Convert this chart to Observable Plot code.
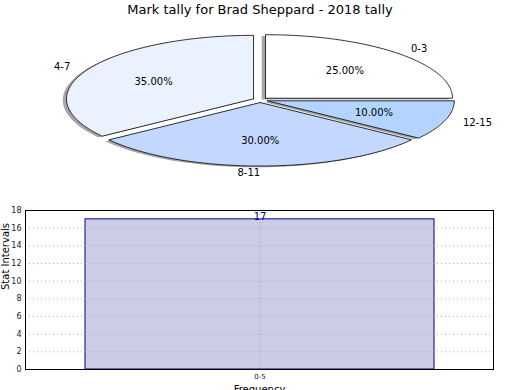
<!DOCTYPE html>
<html>
<head>
<meta charset="utf-8">
<script src="https://cdn.jsdelivr.net/npm/d3@7"></script>
<script src="https://cdn.jsdelivr.net/npm/@observablehq/plot@0.6"></script>
<style>
  html, body { margin: 0; padding: 0; background: #fff; }
  #wrap { position: relative; width: 520px; height: 390px; overflow: hidden; font-family: "DejaVu Sans", sans-serif; }
  #title { position: absolute; left: 0; top: 2px; width: 520px; text-align: center; font-size: 13px; color: #000; }
  #pie { position: absolute; left: 0; top: 0; }
  #bar { position: absolute; left: 0; top: 195px; }
</style>
</head>
<body>
<div id="wrap">
  <div id="pie"></div>
  <div id="title">Mark tally for Brad Sheppard - 2018 tally</div>
  <div id="bar"></div>
</div>
<script>
// ---- data ----
const sliceLabels = ["0-3", "4-7", "8-11", "12-15"];
const sliceShares = [25, 35, 30, 10];
const sliceColors = ["#ffffff", "#ebf2ff", "#c4d7ff", "#b3d4ff"];
const sliceExplode = [0.04, 0.04, 0.04, 0.04];

const barCategories = ["0-5"];
const barValues = [17];

// ---- pie geometry (unit circle, counterclockwise from 0°) ----
const total = d3.sum(sliceShares);
let acc = 0;
const slices = sliceLabels.map((label, i) => {
  const a0 = acc / total * 2 * Math.PI;
  acc += sliceShares[i];
  const a1 = acc / total * 2 * Math.PI;
  const mid = (a0 + a1) / 2;
  const ox = sliceExplode[i] * Math.cos(mid), oy = sliceExplode[i] * Math.sin(mid);
  return {label, share: sliceShares[i], a0, a1, mid, ox, oy};
});
function polygon(s, dx, dy, key) {
  const pts = [{key, label: s.label, x: s.ox + dx, y: s.oy + dy}];
  const n = Math.max(2, Math.ceil((s.a1 - s.a0) / (Math.PI / 180)));
  for (let k = 0; k <= n; k++) {
    const a = s.a0 + (s.a1 - s.a0) * k / n;
    pts.push({key, label: s.label, x: s.ox + dx + Math.cos(a), y: s.oy + dy + Math.sin(a)});
  }
  pts.push({key, label: s.label, x: s.ox + dx, y: s.oy + dy});
  return pts;
}
const wedgePts = slices.flatMap(s => polygon(s, 0, 0, "w" + s.label));
const shadowPts = slices.flatMap(s => polygon(s, -0.02, -0.02, "s" + s.label));
const pctText = slices.map(s => ({x: s.ox + 0.6 * Math.cos(s.mid), y: s.oy + 0.6 * Math.sin(s.mid), t: s.share.toFixed(2) + "%"}));
const lblText = slices.map(s => ({x: s.ox + 1.1 * Math.cos(s.mid), y: s.oy + 1.1 * Math.sin(s.mid), t: s.label}));

const pie = Plot.plot({
  width: 520, height: 195,
  margin: 0,
  x: {domain: [-1, 1], range: [72.7, 446.7], axis: null},
  y: {domain: [-1, 1], range: [163, 36], axis: null},
  color: {domain: sliceLabels, range: sliceColors},
  style: {fontFamily: "DejaVu Sans, sans-serif", background: "transparent"},
  marks: [
    Plot.line(shadowPts, {x: "x", y: "y", z: "key", fill: "#4d4d4d", fillOpacity: 0.5, stroke: null, curve: "linear"}),
    Plot.line(wedgePts, {x: "x", y: "y", z: "key", fill: "label", stroke: "#000", strokeWidth: 0.8, curve: "linear"}),
    Plot.text(pctText, {x: "x", y: "y", text: "t", fontSize: 10, fill: "#000"}),
    Plot.text(lblText.filter(d => d.x > 0), {x: "x", y: "y", text: "t", fontSize: 10, fill: "#000", textAnchor: "start"}),
    Plot.text(lblText.filter(d => d.x <= 0.0001), {x: "x", y: "y", text: "t", fontSize: 10, fill: "#000", textAnchor: "end"})
  ]
});
document.getElementById("pie").appendChild(pie);

// ---- bar chart ----
const barData = barCategories.map((c, i) => ({cat: c, v: barValues[i]}));
const bar = Plot.plot({
  width: 520, height: 195,
  marginTop: 15, marginBottom: 21, marginLeft: 25, marginRight: 27,
  x: {domain: barCategories, paddingInner: 0, paddingOuter: 0.1686, label: null},
  y: {domain: [0, 18], ticks: d3.range(0, 19, 2), label: null},
  style: {fontFamily: "DejaVu Sans, sans-serif", background: "transparent"},
  marks: [
    Plot.barY(barData, {x: "cat", y: "v", fill: "#cccce6", stroke: "#000080", strokeWidth: 1, inset: 0}),
    Plot.gridY(d3.range(0, 19, 2), {stroke: "#999", strokeOpacity: 0.8, strokeDasharray: "1,3"}),
    Plot.gridX(barCategories, {stroke: "#999", strokeOpacity: 0.8, strokeDasharray: "1,3"}),
    Plot.axisY(d3.range(0, 19, 2), {tickSize: 0, tickPadding: 4, fontSize: 8, fill: "#222", label: null}),
    Plot.axisX({tickSize: 0, tickPadding: 5, fontSize: 7, fill: "#222", label: null}),
    Plot.text(barData, {x: "cat", y: "v", text: d => String(d.v), lineAnchor: "bottom", dy: 1, fontSize: 10, fill: "#00008b"}),
    Plot.text(["Stat Intervals"], {frameAnchor: "left", rotate: -90, dx: -20, fontSize: 10, fill: "#000"}),
    Plot.text(["Frequency"], {frameAnchor: "bottom", dy: 16, lineAnchor: "top", fontSize: 10, fill: "#000"}),
    Plot.frame({stroke: "#000", strokeWidth: 1})
  ]
});
document.getElementById("bar").appendChild(bar);
</script>
</body>
</html>
